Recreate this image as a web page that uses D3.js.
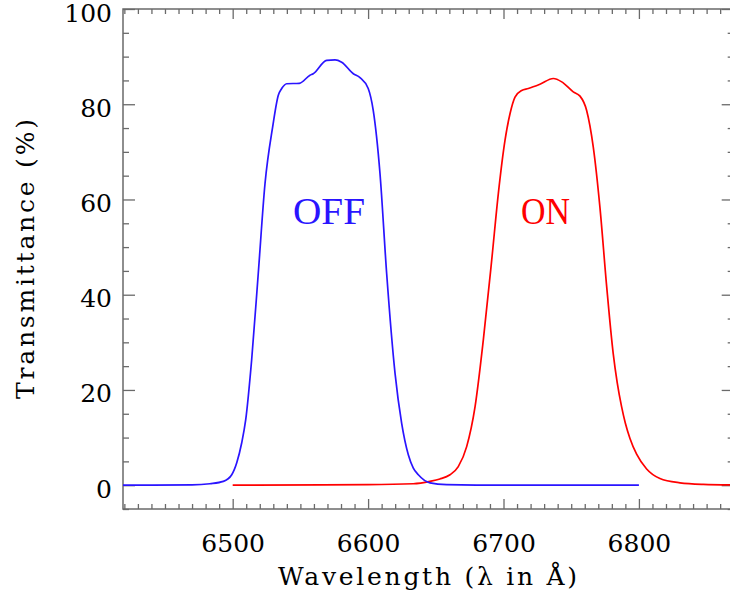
<!DOCTYPE html>
<html>
<head>
<meta charset="utf-8">
<script src="https://cdn.jsdelivr.net/npm/d3@7"></script>
<style>
  html, body { margin: 0; padding: 0; background: #fff; }
  svg { display: block; }
</style>
</head>
<body>
<svg id="chart" width="730" height="596"></svg>
<script>
// ---- data ----
const xDomain = [6419, 6870];
const yDomain = [-5, 100];
const xMajorTicks = [6500, 6600, 6700, 6800];
const yMajorTicks = [0, 20, 40, 60, 80, 100];
const xTitle = "Wavelength (\u03bb in \u00c5)";
const yTitle = "Transmittance (%)";
const seriesNames = ["OFF", "ON"];

const offWavelength = [6419, 6470, 6483.2, 6493.1, 6499.3, 6503.0, 6506.6, 6509.6, 6514.0, 6518.9, 6523.9, 6529.5,
  6533.7, 6536.2, 6539.9, 6549.2, 6557.1, 6559.5, 6569.4, 6575.6, 6580.5, 6589.1, 6594.0, 6600.1,
  6603.8, 6608.8, 6613.7, 6619.9, 6624.8, 6629.7, 6633.4, 6637.1, 6645.7, 6658, 6680, 6800];
const offTransmission = [0, 0.05, 0.3, 0.8, 2.2, 4.7, 8.8, 13.7, 26.3, 44.5, 63.4, 75.2,
  81.9, 83.3, 84.3, 84.4, 86.1, 86.4, 89.2, 89.3, 88.8, 86.4, 85.6, 83.3,
  78.7, 65.4, 44.5, 23.5, 13.0, 6.4, 3.6, 2.2, 0.5, 0.1, 0.02, 0];

const onWavelength = [6500, 6600, 6633.4, 6645.7, 6653, 6660.5, 6666.6, 6672.8, 6679.0, 6685.1, 6691.3, 6696.2,
  6701.1, 6704.8, 6708.5, 6713.4, 6718.3, 6726.9, 6736.8, 6743.0, 6751.5, 6756.5, 6761.4, 6766.3,
  6771.2, 6776.2, 6781.0, 6784.0, 6787.2, 6790.0, 6793.4, 6798.3, 6805.7, 6815.5, 6830.3, 6847.5, 6870];
const onTransmission = [0, 0.1, 0.3, 0.8, 1.3, 2.2, 3.9, 8.1, 16.5, 30.5, 47.3, 61.3,
  72.4, 78.0, 81.5, 82.9, 83.3, 84.2, 85.4, 84.7, 82.6, 81.7, 78.7, 71.0,
  58.4, 41.7, 27.7, 21.5, 16.5, 13.0, 9.8, 6.5, 3.4, 1.4, 0.5, 0.17, 0.05];

// ---- layout ----
const L = 123, R = 733.7, T = 9, B = 509;
const axisColor = "#6a6a6a";
const tickFont = "DejaVu Serif, serif";
const offColor = "#2a14ff";
const onColor = "#ff0000";

const svg = d3.select("#chart");
const x = d3.scaleLinear().domain(xDomain).range([L, R]);
const y = d3.scaleLinear().domain(yDomain).range([B, T]);

const xMinor = d3.range(6420, 6871, 10).filter(v => !xMajorTicks.includes(v) && v >= xDomain[0] && v <= xDomain[1]);
const yMinor = d3.range(-5, 100, 5).filter(v => !yMajorTicks.includes(v));

function styleAxis(g) {
  g.select(".domain").remove();
  g.selectAll(".tick line").attr("stroke", axisColor).attr("stroke-width", 1.3);
  g.selectAll("text").attr("font-family", tickFont).attr("font-size", 25).attr("fill", "#000");
}

// bottom axis
svg.append("g").attr("transform", `translate(0,${B})`)
  .call(d3.axisBottom(x).tickValues(xMajorTicks).tickSize(-10).tickSizeOuter(0).tickPadding(25).tickFormat(d3.format("d")))
  .call(styleAxis);
svg.append("g").attr("transform", `translate(0,${B})`)
  .call(d3.axisBottom(x).tickValues(xMinor).tickSize(-5).tickSizeOuter(0).tickFormat(""))
  .call(styleAxis);
// top axis
svg.append("g").attr("transform", `translate(0,${T})`)
  .call(d3.axisTop(x).tickValues(xMajorTicks).tickSize(-10).tickSizeOuter(0).tickFormat(""))
  .call(styleAxis);
svg.append("g").attr("transform", `translate(0,${T})`)
  .call(d3.axisTop(x).tickValues(xMinor).tickSize(-5).tickSizeOuter(0).tickFormat(""))
  .call(styleAxis);
// left axis
svg.append("g").attr("transform", `translate(${L},0)`)
  .call(d3.axisLeft(y).tickValues(yMajorTicks).tickSize(-12).tickSizeOuter(0).tickPadding(11).tickFormat(d3.format("d")))
  .call(styleAxis)
  .call(g => g.selectAll("text").attr("dy", "0.48em"));
svg.append("g").attr("transform", `translate(${L},0)`)
  .call(d3.axisLeft(y).tickValues(yMinor).tickSize(-6).tickSizeOuter(0).tickFormat(""))
  .call(styleAxis);
// right axis
svg.append("g").attr("transform", `translate(${R},0)`)
  .call(d3.axisRight(y).tickValues(yMajorTicks).tickSize(-12).tickSizeOuter(0).tickFormat(""))
  .call(styleAxis);
svg.append("g").attr("transform", `translate(${R},0)`)
  .call(d3.axisRight(y).tickValues(yMinor).tickSize(-6).tickSizeOuter(0).tickFormat(""))
  .call(styleAxis);

// frame
svg.append("rect").attr("x", L).attr("y", T).attr("width", R - L).attr("height", B - T)
  .attr("fill", "none").attr("stroke", axisColor).attr("stroke-width", 1.5);

// curves
const line = d3.line().curve(d3.curveMonotoneX).x(d => x(d[0])).y(d => y(d[1]));
const offData = offWavelength.map((w, i) => [w, offTransmission[i]]);
const onData = onWavelength.map((w, i) => [w, onTransmission[i]]);

svg.append("path").datum(onData).attr("d", line)
  .attr("fill", "none").attr("stroke", onColor).attr("stroke-width", 1.7).attr("stroke-linejoin", "round");
svg.append("path").datum(offData).attr("d", line)
  .attr("fill", "none").attr("stroke", offColor).attr("stroke-width", 1.7).attr("stroke-linejoin", "round");

// series labels
svg.append("text").attr("x", 329).attr("y", 224).attr("text-anchor", "middle")
  .attr("font-family", "Liberation Serif, serif").attr("font-size", 37)
  .attr("textLength", 72).attr("lengthAdjust", "spacingAndGlyphs")
  .attr("fill", offColor).text(seriesNames[0]);
svg.append("text").attr("x", 545.5).attr("y", 224).attr("text-anchor", "middle")
  .attr("font-family", "Liberation Serif, serif").attr("font-size", 37)
  .attr("textLength", 49).attr("lengthAdjust", "spacingAndGlyphs")
  .attr("fill", onColor).text(seriesNames[1]);

// axis titles
svg.append("text").attr("x", 427.5).attr("y", 585).attr("text-anchor", "middle")
  .attr("font-family", tickFont).attr("font-size", 25)
  .attr("textLength", 299).attr("lengthAdjust", "spacing")
  .text(xTitle);
svg.append("text").attr("transform", `translate(34,${(T + B) / 2}) rotate(-90)`).attr("text-anchor", "middle")
  .attr("font-family", tickFont).attr("font-size", 25)
  .attr("textLength", 280).attr("lengthAdjust", "spacing")
  .text(yTitle);
</script>
</body>
</html>
